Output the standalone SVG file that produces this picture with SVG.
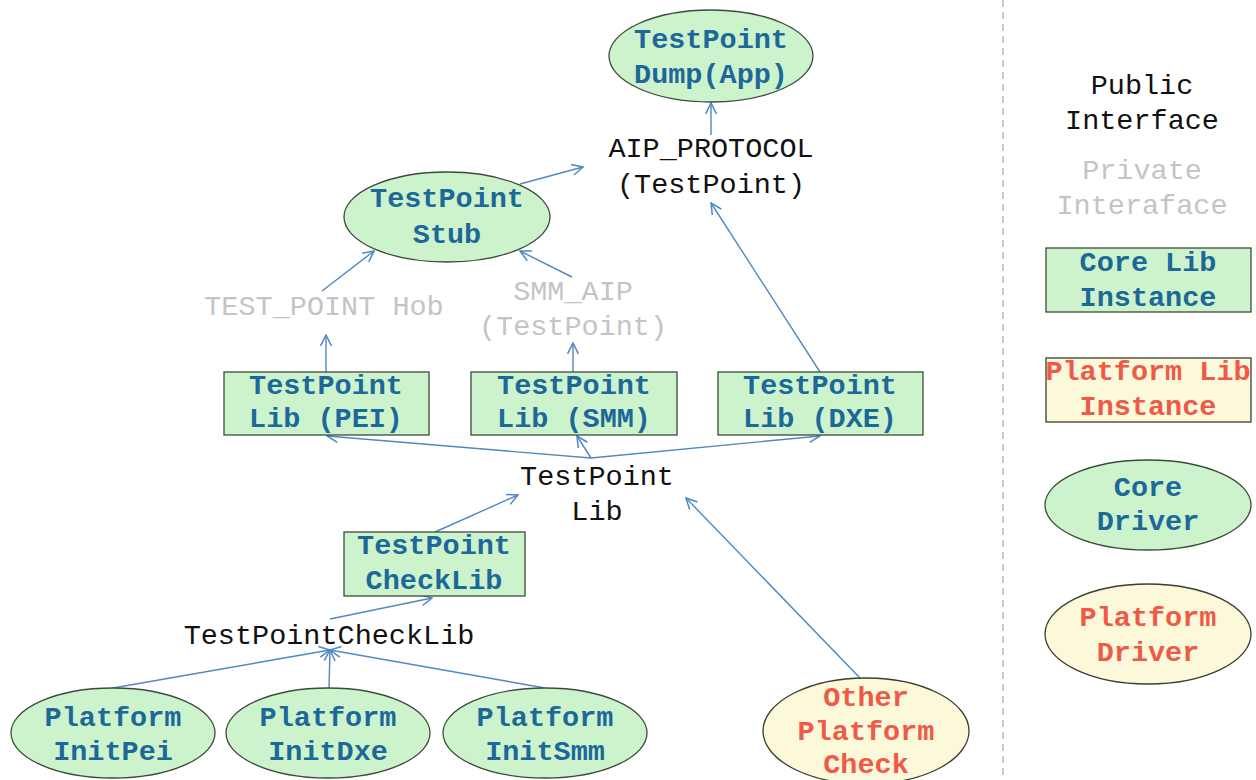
<svg xmlns="http://www.w3.org/2000/svg" width="1256" height="780" viewBox="0 0 1256 780">
  <style>
    .core { fill: #cdf3cd; stroke: #3c4a3c; stroke-width: 1.3; }
    .plat { fill: #fcf8da; stroke: #3c3c30; stroke-width: 1.3; }
    .t { font-family: "Liberation Mono", "Courier New", monospace; font-size: 28.5px; text-anchor: middle; }
    .blue { fill: #1c6898; font-weight: bold; }
    .red { fill: #ef5a48; font-weight: bold; }
    .pub { fill: #111111; }
    .priv { fill: #c4c4c4; }
    .edge { fill: none; stroke: #4f88c2; stroke-width: 1.4; marker-end: url(#arrow); }
  </style>
  <defs>
    <marker id="arrow" viewBox="0 0 12 12" refX="11" refY="6" markerWidth="13" markerHeight="13" markerUnits="userSpaceOnUse" orient="auto">
      <path d="M1,1 L11,6 L1,11" fill="none" stroke="#4f88c2" stroke-width="1.4"/>
    </marker>
  </defs>
  <rect width="1256" height="780" fill="#ffffff"/>

  <!-- divider between diagram and legend -->
  <line x1="1003" y1="0" x2="1003" y2="780" stroke="#9ab4cc" stroke-width="1.3" stroke-dasharray="7 5"/>

  <!-- connectors -->
  <g id="connectors">
    <line class="edge" x1="711" y1="135" x2="711" y2="103"/>
    <line class="edge" x1="520" y1="184" x2="583" y2="167"/>
    <line class="edge" x1="820" y1="372" x2="711" y2="203"/>
    <line class="edge" x1="322" y1="291" x2="374" y2="251"/>
    <line class="edge" x1="572" y1="277" x2="520" y2="251"/>
    <line class="edge" x1="326" y1="372" x2="326" y2="335"/>
    <line class="edge" x1="573" y1="372" x2="573" y2="343"/>
    <line class="edge" x1="591" y1="458" x2="327" y2="436"/>
    <line class="edge" x1="591" y1="458" x2="577" y2="436"/>
    <line class="edge" x1="591" y1="458" x2="820" y2="436"/>
    <line class="edge" x1="435" y1="532" x2="518" y2="495"/>
    <line class="edge" x1="330" y1="619" x2="432" y2="598"/>
    <line class="edge" x1="113" y1="688" x2="330" y2="650"/>
    <line class="edge" x1="329" y1="688" x2="330" y2="650"/>
    <line class="edge" x1="545" y1="688" x2="330" y2="650"/>
    <line class="edge" x1="860" y1="678" x2="686" y2="498"/>
  </g>

  <g id="testpoint-dump">
    <ellipse class="core" cx="711" cy="56" rx="102" ry="46"/>
    <text class="t blue" x="711" y="48">TestPoint</text>
    <text class="t blue" x="711" y="83">Dump(App)</text>
  </g>

  <g id="aip-protocol">
    <text class="t pub" x="711" y="157">AIP_PROTOCOL</text>
    <text class="t pub" x="711" y="193">(TestPoint)</text>
  </g>

  <g id="testpoint-stub">
    <ellipse class="core" cx="447" cy="217" rx="103" ry="45"/>
    <text class="t blue" x="447" y="207">TestPoint</text>
    <text class="t blue" x="447" y="243">Stub</text>
  </g>

  <g id="test-point-hob">
    <text class="t priv" x="324" y="315">TEST_POINT Hob</text>
  </g>

  <g id="smm-aip">
    <text class="t priv" x="573" y="300">SMM_AIP</text>
    <text class="t priv" x="573" y="335">(TestPoint)</text>
  </g>

  <g id="lib-pei">
    <rect class="core" x="224" y="372" width="205" height="63"/>
    <text class="t blue" x="326" y="394">TestPoint</text>
    <text class="t blue" x="326" y="427">Lib (PEI)</text>
  </g>

  <g id="lib-smm">
    <rect class="core" x="471" y="372" width="206" height="63"/>
    <text class="t blue" x="574" y="394">TestPoint</text>
    <text class="t blue" x="574" y="427">Lib (SMM)</text>
  </g>

  <g id="lib-dxe">
    <rect class="core" x="718" y="372" width="205" height="63"/>
    <text class="t blue" x="820" y="394">TestPoint</text>
    <text class="t blue" x="820" y="427">Lib (DXE)</text>
  </g>

  <g id="testpoint-lib">
    <text class="t pub" x="597" y="485">TestPoint</text>
    <text class="t pub" x="597" y="520">Lib</text>
  </g>

  <g id="checklib-instance">
    <rect class="core" x="344" y="532" width="181" height="64"/>
    <text class="t blue" x="434" y="554">TestPoint</text>
    <text class="t blue" x="434" y="589">CheckLib</text>
  </g>

  <g id="testpointchecklib">
    <text class="t pub" x="329" y="644">TestPointCheckLib</text>
  </g>

  <g id="platform-initpei">
    <ellipse class="core" cx="113" cy="733" rx="102" ry="45"/>
    <text class="t blue" x="113" y="726">Platform</text>
    <text class="t blue" x="113" y="760">InitPei</text>
  </g>

  <g id="platform-initdxe">
    <ellipse class="core" cx="328" cy="733" rx="102" ry="45"/>
    <text class="t blue" x="328" y="726">Platform</text>
    <text class="t blue" x="328" y="760">InitDxe</text>
  </g>

  <g id="platform-initsmm">
    <ellipse class="core" cx="545" cy="733" rx="102" ry="45"/>
    <text class="t blue" x="545" y="726">Platform</text>
    <text class="t blue" x="545" y="760">InitSmm</text>
  </g>

  <g id="other-platform-check">
    <ellipse class="plat" cx="866" cy="731" rx="103" ry="53"/>
    <text class="t red" x="866" y="706">Other</text>
    <text class="t red" x="866" y="740">Platform</text>
    <text class="t red" x="866" y="773">Check</text>
  </g>

  <!-- legend -->
  <g id="legend-public">
    <text class="t pub" x="1142" y="94">Public</text>
    <text class="t pub" x="1142" y="129">Interface</text>
  </g>
  <g id="legend-private">
    <text class="t priv" x="1142" y="179">Private</text>
    <text class="t priv" x="1142" y="214">Interaface</text>
  </g>
  <g id="legend-core-lib">
    <rect class="core" x="1046" y="248" width="205" height="64"/>
    <text class="t blue" x="1148" y="271">Core Lib</text>
    <text class="t blue" x="1148" y="306">Instance</text>
  </g>
  <g id="legend-platform-lib">
    <rect class="plat" x="1046" y="358" width="205" height="64"/>
    <text class="t red" x="1148" y="380">Platform Lib</text>
    <text class="t red" x="1148" y="415">Instance</text>
  </g>
  <g id="legend-core-driver">
    <ellipse class="core" cx="1148" cy="505" rx="103" ry="45"/>
    <text class="t blue" x="1148" y="496">Core</text>
    <text class="t blue" x="1148" y="530">Driver</text>
  </g>
  <g id="legend-platform-driver">
    <ellipse class="plat" cx="1148" cy="634" rx="103" ry="50"/>
    <text class="t red" x="1148" y="626">Platform</text>
    <text class="t red" x="1148" y="661">Driver</text>
  </g>
</svg>
